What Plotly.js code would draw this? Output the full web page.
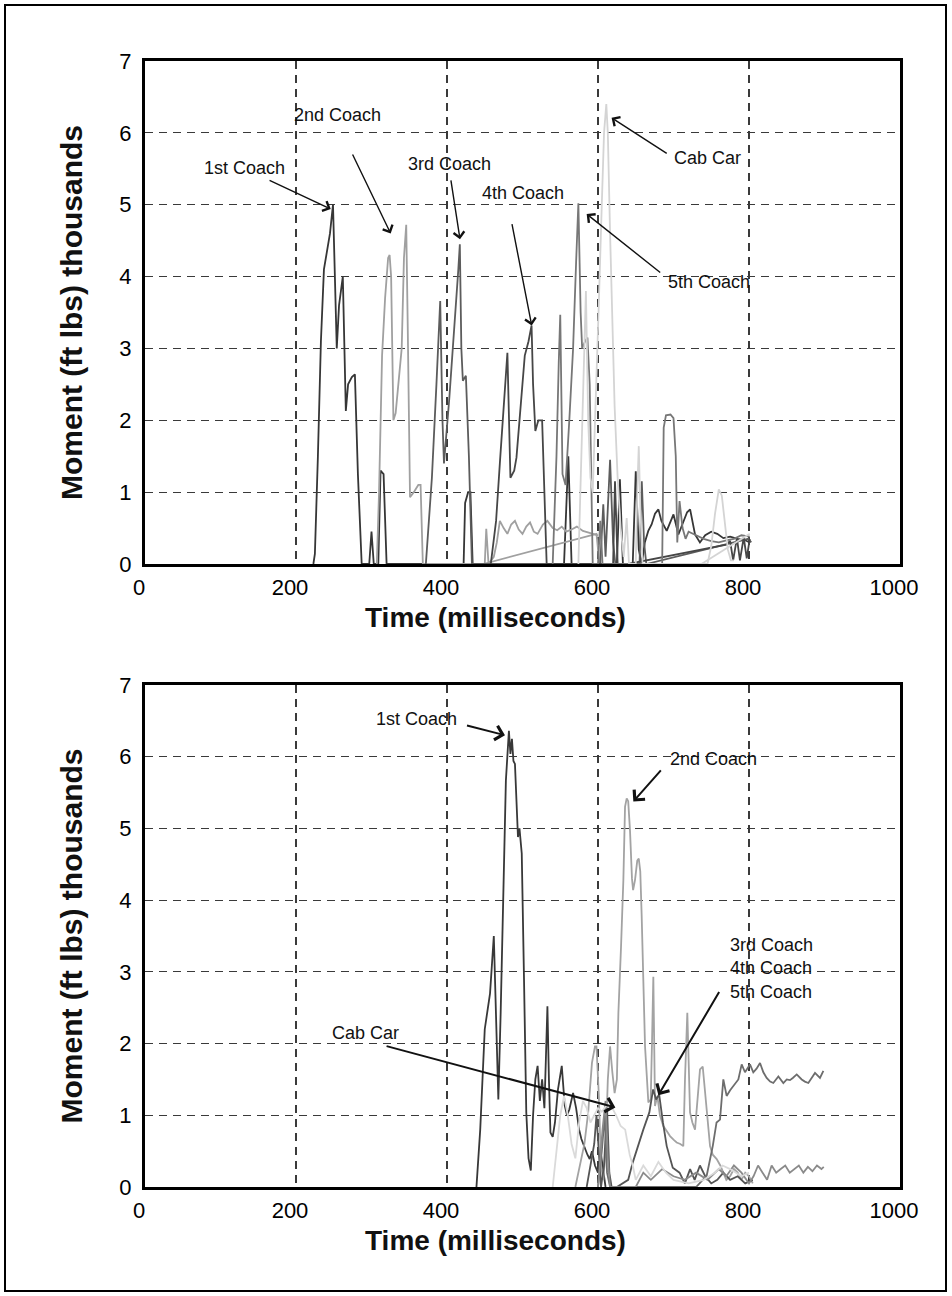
<!DOCTYPE html>
<html><head><meta charset="utf-8">
<script src="https://cdn.plot.ly/plotly-3.0.1.min.js"></script>
<style>html,body{margin:0;padding:0;background:#fff}#chart{width:952px;height:1296px}</style>
</head><body><div id="chart"></div>
<script>
// ---------- Top chart data (time ms, moment thousand ft-lbs) ----------
const topTime1 = [223,225,229,233,237,242,245,249,254,257,262,266,269,274,278,282,287,297,300,303,309,312,316,320,422,424,428,431,434,555,560.7,565,625,629,633,646,650,654,658,662,666.6,671,675.5,680,684,691,696,700,706.5,713,718,722,728.5,735,742,750,758,766,775,785,795,801];
const topMoment1 = [0,0.14,1.5,3.1,4.1,4.4,4.6,5.0,3.0,3.6,4.0,2.13,2.5,2.6,2.64,1.25,0,0,0.45,0,0,1.3,1.25,0,0,0.85,1.0,1.0,0,0,1.5,0,0,1.18,0,0,1.29,0.2,0,0.3,0.46,0.55,0.7,0.76,0.6,0.46,0.6,0.69,0.41,0.6,0.72,0.76,0.41,0.3,0.4,0.45,0.42,0.36,0.38,0.35,0.33,0.3];
const topTime2 = [307,310,314,318,322,324,326,329,332,337,340,343,346,348,351,356,362,365,368,450,452,455,462,466,470,475,480,485,490,495,500,505,510,515,520,527,533,540,546,552,558,565,572,580,588,596,600,null,448,598,602];
const topMoment2 = [0,1.0,2.9,3.7,4.26,4.3,4.0,2.0,2.1,2.7,3.0,4.26,4.72,3.3,0.93,1.0,1.1,1.1,0,0,0.49,0,0.1,0.3,0.6,0.5,0.42,0.55,0.6,0.48,0.42,0.52,0.58,0.45,0.42,0.55,0.6,0.5,0.47,0.52,0.45,0.48,0.52,0.46,0.44,0.42,0.4,null,0,0.42,0];
const topTime3 = [372,380,386,391,394,396,403,410,415,417,419,421,425,429,433,603,607,610,616,620,623,655,658,661,664,799,803];
const topMoment3 = [0,1.2,2.5,3.66,2.0,1.4,2.3,3.3,4.1,4.45,3.0,2.55,2.62,1.5,0,0,0.83,0.1,1.45,0.3,0,0,1.15,0.3,0,0.35,0.3];
const topTime4 = [458,465,470,475,480,484,489,492,498,503,508,512,514,517,521,526,532,620,622.5,626,640,770,775,779,784,788,793,797,801];
const topMoment4 = [0,0.6,1.4,2.2,2.94,1.2,1.3,1.48,2.3,2.9,3.1,3.32,2.5,1.85,2.0,2.0,0,0,1.15,0,0,0.27,0.32,0.05,0.36,0.05,0.37,0.08,0.35];
const topTime5 = [540,545,548,550,553,557,562,567,571,574,577,579,583,586,589,593,600,603,606,685,687,690,696,700,703,705,708,712,716,720,730,740,750,760,770,780,790,801];
const topMoment5 = [0,1.5,2.8,3.47,1.25,1.1,2.0,3.0,4.2,5.02,3.5,3.0,3.1,3.15,2.5,0,0,0.6,0,0,1.9,2.07,2.08,2.03,1.5,0.3,0.875,0.5,0.35,0.45,0.4,0.35,0.32,0.3,0.33,0.35,0.4,0.38];
const topTimeCab = [574,578,582,584,587,590,593,597,601,605,608,611,613,616,619,622,626,630,634,638,641,650,652,654,656,659,745,750,755,760,764,768,772,776,780,null,737,801];
const topMomentCab = [0,1.5,3.0,3.8,2.0,1.2,1.0,2.2,3.6,5.0,6.0,6.4,6.0,4.6,3.3,2.2,1.2,0.5,0.1,0.64,0,0,1.0,1.64,0.8,0,0,0.25,0.7,1.04,0.95,0.55,0.2,0.05,0.05,null,0,0.42];

// ---------- Bottom chart data ----------
const botTime1 = [439,444,450,457,462,465,468,471,474,478,482,484,486,488,490,492,494,496,499,502,505,508,511,514,517,520,523,526,529,531,533,535,537,540,543,547,550,552,556,559,562,567,571,575,578,582,586,589,592,596,600,604,607,610];
const botMoment1 = [0,0.8,2.2,2.7,3.5,2.2,1.22,2.4,3.8,5.67,6.36,6.04,6.25,5.94,5.9,5.3,4.88,5.0,4.65,2.9,1.04,0.4,0.23,1.0,1.5,1.69,1.2,1.5,1.1,1.8,2.52,1.5,0.76,0.7,0.9,1.36,1.6,1.69,1.13,1.0,1.08,1.31,1.1,0.8,0.67,0.55,0.45,0.39,0.5,0.3,0.2,0.45,0.2,0];
const botTime2 = [570,576,582,587,592,596,598,601,604,607,610,613,616,619,622,625,627,630.5,633.6,635.8,638,640,642.4,645,646.5,649,652,654,656,657.8,660,662.3,666.7,669.8,671.5,673.3,675.5,678.6,682,686.5,691,695.4,700,704.2,709,713,715.2,718.3,721.9,725,728.5,732,735.1,738.7,741,744,748.4,752,757.2,762,766,770,775,780,785,790,795,800,805];
const botMoment2 = [0,0.3,0.6,1.04,1.73,1.96,1.96,1.3,0.3,0.1,0.5,1.5,1.96,1.6,1.31,1.5,2.43,3.35,4.28,5.3,5.42,5.38,4.97,4.3,4.14,4.28,4.55,4.58,4.4,3.8,2.8,1.96,1.18,1.22,2.0,2.93,1.13,1.27,1.0,0.85,0.78,0.71,0.66,0.62,0.6,0.57,1.5,2.43,1.04,0.9,0.8,1.2,1.64,1.68,1.4,1.04,0.57,0.45,0.39,0.3,0.2,0.1,0.15,0.25,0.2,0.1,0.2,0.15,0.05];
const botTime3 = [585,590,595,598,601,604,608,612,615,618,625,632,640,646,652,660,668,673,677,681,686,691,699,708,715,722,728,735,742,750,758,766,775,785,795,805];
const botMoment3 = [0,0.3,0.6,1.0,0.5,0,0.3,1.1,0.2,0,0,0.05,0.1,0.34,0.55,0.8,1.04,1.36,1.22,1.29,0.9,0.57,0.27,0.2,0.05,0.25,0.1,0.3,0.15,0.05,0.1,0.2,0.1,0.15,0.05,0.1];
const botTime4 = [600,605,609,612,616,730,744,752,757,761.6,766,770.4,775,779.3,785.9,790.3,794.7,801.3,805.7,810,814.6,819,823.4,828,832.2,838.9,845.5,850,854.3,858,863.2,869.8,874,878.6,883,887.4,894,898.5];
const botMoment4 = [0,0.5,1.0,0.2,0,0,0.16,0.57,0.9,0.94,1.5,1.27,1.35,1.41,1.5,1.71,1.6,1.71,1.6,1.65,1.73,1.6,1.52,1.47,1.45,1.54,1.45,1.5,1.49,1.52,1.57,1.5,1.47,1.45,1.52,1.59,1.52,1.62];
const botTime5 = [600,606,610,613,616,650,660,670,685,700,715,730,745,760,770,780,790,800,806,812,818,824,830,836,842,848,854,860,866,872,878,884,890,896,899];
const botMoment5 = [0,0.8,1.2,0.4,0,0,0.2,0.1,0.25,0.15,0.1,0.2,0.1,0.25,0.15,0.3,0.2,0.05,0.15,0.3,0.2,0.1,0.3,0.2,0.25,0.3,0.2,0.25,0.3,0.2,0.28,0.22,0.3,0.25,0.28];
const botTimeCab = [540,545,550,555,560,565,570,575,580,585,590,595,600,605,612,618,624,630,636,642,646,650,655,660,670,680,690,700,720,740,755,765,775,790,800];
const botMomentCab = [0,0.5,1.0,1.27,1.0,0.6,0.4,0.9,1.2,1.1,0.9,1.0,1.1,1.05,1.15,1.12,1.0,0.85,0.8,0.45,0.3,0.1,0.2,0.3,0.15,0.35,0.2,0.1,0.05,0.1,0.2,0.3,0.25,0.15,0.2];

const seriesNames = ['1st Coach','2nd Coach','3rd Coach','4th Coach','5th Coach','Cab Car'];
const topColors = ['#363636','#a0a0a0','#5c5c5c','#464646','#777777','#d4d4d4'];
const botColors = ['#383838','#a3a3a3','#555555','#6d6d6d','#8a8a8a','#dadada'];
const xTickVals = [0,200,400,600,800,1000];
const yTickVals = [0,1,2,3,4,5,6,7];
const xTitle = 'Time (milliseconds)';
const yTitle = 'Moment (ft lbs) thousands';

const topData = [[topTime1,topMoment1],[topTime2,topMoment2],[topTime3,topMoment3],[topTime4,topMoment4],[topTime5,topMoment5],[topTimeCab,topMomentCab]];
const botData = [[botTime1,botMoment1],[botTime2,botMoment2],[botTime3,botMoment3],[botTime4,botMoment4],[botTime5,botMoment5],[botTimeCab,botMomentCab]];

const FONT = 'Liberation Sans, Arial, sans-serif';
const traces = [];
topData.forEach((d,i)=>traces.push({x:d[0],y:d[1],name:seriesNames[i],type:'scatter',mode:'lines',xaxis:'x',yaxis:'y',
  line:{color:topColors[i],width:1.8},connectgaps:false,hoverinfo:'skip',showlegend:false}));
botData.forEach((d,i)=>traces.push({x:d[0],y:d[1],name:seriesNames[i],type:'scatter',mode:'lines',xaxis:'x2',yaxis:'y2',
  line:{color:botColors[i],width:1.8},connectgaps:false,hoverinfo:'skip',showlegend:false}));

function xAx(anchor){
  return {domain:[145/952,900/952],range:[0,1000],anchor:anchor,tickvals:xTickVals,ticks:'',
    showline:true,mirror:true,linecolor:'#000',linewidth:3,zeroline:false,
    showgrid:true,gridcolor:'#3a3a3a',gridwidth:1.2,griddash:'8px,6px',
    tickfont:{family:FONT,size:22,color:'#000'},ticklabelstandoff:2,ticklabelshift:-6};
}
function yAx(anchor,dom){
  return {domain:dom,range:[0,7],anchor:anchor,tickvals:yTickVals,ticks:'',
    showline:true,mirror:true,linecolor:'#000',linewidth:3,zeroline:false,
    showgrid:true,gridcolor:'#3a3a3a',gridwidth:1.2,griddash:'8px,6px',
    tickfont:{family:FONT,size:22,color:'#000'},ticklabelstandoff:6,
    title:{text:yTitle,standoff:28,font:{family:FONT,size:30,color:'#111',weight:700}}};
}

function label(xr,yr,text,x,y,extra){
  return Object.assign({xref:xr,yref:yr,x:x,y:y,text:text,showarrow:false,font:{family:FONT,size:18,color:'#111'}},extra||{});
}
function arrow(xr,yr,x,y,ax,ay,w,s){
  return {xref:xr,yref:yr,axref:xr,ayref:yr,x:x,y:y,ax:ax,ay:ay,text:'',showarrow:true,
    arrowhead:4,arrowsize:s,arrowwidth:w,arrowcolor:'#111',standoff:0,startstandoff:0};
}
function xTitleAnn(pyCenter){
  return {xref:'paper',yref:'paper',x:495/952,y:1-pyCenter/1296,xanchor:'center',yanchor:'middle',
    text:xTitle,showarrow:false,font:{family:FONT,size:28,color:'#111',weight:700}};
}

const annotations = [
  xTitleAnn(617), xTitleAnn(1240),
  label('x','y','1st Coach',132,5.51),
  arrow('x','y',246,4.94,163,5.35,1.4,1.5),
  label('x','y','2nd Coach',255.6,6.25),
  arrow('x','y',325.4,4.6,274,5.72,1.4,1.5),
  label('x','y','3rd Coach',403,5.57),
  arrow('x','y',417.2,4.52,404.9,5.36,1.4,1.5),
  label('x','y','4th Coach',500.7,5.17),
  arrow('x','y',512.2,3.32,485.7,4.75,1.4,1.5),
  label('x','y','5th Coach',747,3.92),
  arrow('x','y',585,4.87,684.4,4.04,1.4,1.5),
  label('x','y','Cab Car',744.4,5.65),
  arrow('x','y',618,6.21,693,5.7,1.4,1.5),

  label('x2','y2','1st Coach',359.6,6.53),
  arrow('x2','y2',476.8,6.3,424.5,6.44,2,1.4),
  label('x2','y2','2nd Coach',753.6,5.97),
  arrow('x2','y2',646.8,5.375,685,5.83,2,1.4),
  label('x2','y2','3rd Coach<br>4th Coach<br>5th Coach',772,3.04,{xanchor:'left',align:'left'}),
  arrow('x2','y2',680,1.28,761.6,2.74,2,1.4),
  label('x2','y2','Cab Car',292.7,2.15),
  arrow('x2','y2',623,1.11,318,1.97,2,1.4)
];

const layout = {
  width:952,height:1296,margin:{l:0,r:0,t:0,b:0},
  paper_bgcolor:'#fff',plot_bgcolor:'#fff',showlegend:false,
  xaxis:xAx('y'),yaxis:yAx('x',[1-564/1296,1-61/1296]),
  xaxis2:xAx('y2'),yaxis2:yAx('x2',[1-1187/1296,1-685/1296]),
  annotations:annotations,
  shapes:[{type:'rect',xref:'paper',yref:'paper',x0:5/952,x1:946/952,y0:1-1291/1296,y1:1-5/1296,line:{color:'#000',width:2}}]
};

Plotly.newPlot('chart',traces,layout,{staticPlot:true,displayModeBar:false});
</script></body></html>
